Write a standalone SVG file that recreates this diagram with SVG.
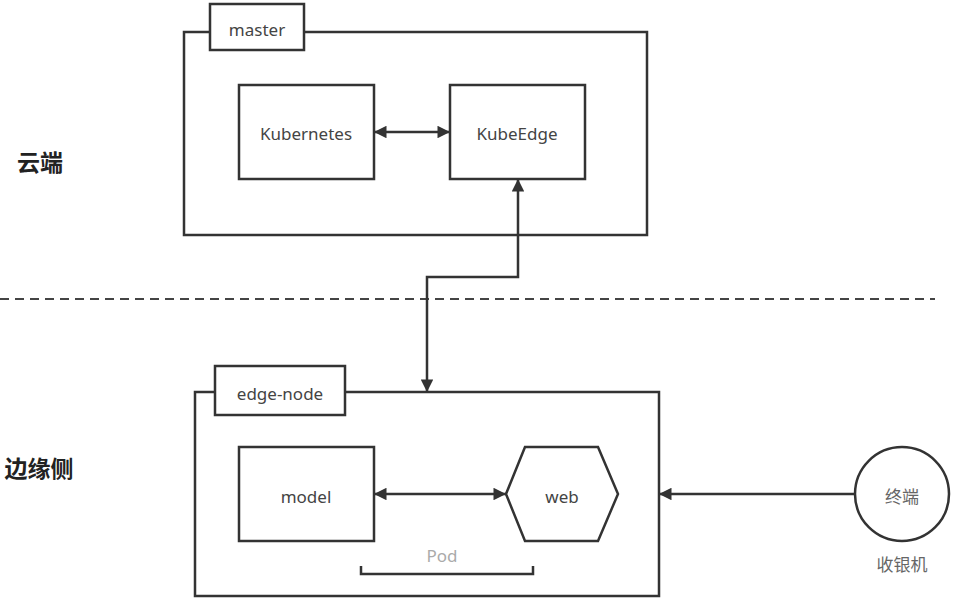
<svg xmlns="http://www.w3.org/2000/svg" width="953" height="601" viewBox="0 0 953 601">
<defs>
<marker id="ah" viewBox="0 0 10 10" refX="10" refY="5" markerWidth="5.5" markerHeight="5" orient="auto-start-reverse" markerUnits="strokeWidth">
<path d="M0,0 L10,5 L0,10 z" fill="#333"/>
</marker>
<style>
.box{fill:#fff;stroke:#333;stroke-width:2.5}
.t{font-family:"Microsoft YaHei","Noto Sans","Noto Sans CJK SC",sans-serif;font-size:17px;fill:#444;text-anchor:middle;dominant-baseline:central}
.h{font-family:"Noto Sans CJK SC",sans-serif;font-size:23px;font-weight:bold;fill:#222;text-anchor:middle;dominant-baseline:central}
.c{fill:none;stroke:#333;stroke-width:2.5}
</style>
</defs>
<rect width="953" height="601" fill="#fff"/>
<text class="h" x="40" y="161">云端</text>
<text class="h" x="39" y="467">边缘侧</text>
<line x1="0" y1="299" x2="935" y2="299" stroke="#444" stroke-width="2" stroke-dasharray="9,6"/>
<g id="master">
<rect class="box" x="184" y="32" width="463" height="203"/>
<rect class="box" x="210" y="4" width="94" height="46"/>
<text class="t" x="257" y="29">master</text>
</g>
<g id="kubernetes">
<rect class="box" x="239" y="85" width="135" height="94"/>
<text class="t" x="306" y="133">Kubernetes</text>
</g>
<g id="kubeedge">
<rect class="box" x="450" y="85" width="135" height="94"/>
<text class="t" x="517" y="133">KubeEdge</text>
</g>
<g id="edge-node">
<rect class="box" x="195" y="392" width="464" height="204"/>
<rect class="box" x="215" y="366" width="130" height="49"/>
<text class="t" x="280" y="393">edge-node</text>
</g>
<g id="model">
<rect class="box" x="239" y="447" width="135" height="94"/>
<text class="t" x="306" y="496">model</text>
</g>
<g id="web">
<polygon class="box" points="506,494 525,447 598,447 618,494 598,541 525,541"/>
<text class="t" x="562" y="496">web</text>
</g>
<g id="pod">
<text class="t" x="442" y="555" style="fill:#aaa">Pod</text>
<polyline class="c" points="361,566 361,574 533,574 533,566" stroke-width="2"/>
</g>
<g id="terminal">
<circle class="box" cx="902" cy="494" r="47"/>
<text class="t" x="902" y="496" style="fill:#666">终端</text>
<text class="t" x="902" y="564" style="fill:#666">收银机</text>
</g>
<g id="connectors">
<line class="c" x1="374" y1="132" x2="450" y2="132" marker-start="url(#ah)" marker-end="url(#ah)"/>
<polyline class="c" points="427,392 427,277 518,277 518,179" marker-start="url(#ah)" marker-end="url(#ah)"/>
<line class="c" x1="374" y1="494" x2="506" y2="494" marker-start="url(#ah)" marker-end="url(#ah)"/>
<line class="c" x1="855" y1="494" x2="659" y2="494" marker-end="url(#ah)"/>
</g>
</svg>
